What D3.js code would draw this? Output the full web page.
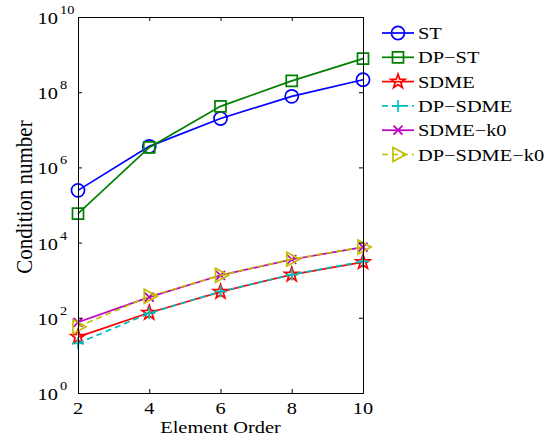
<!DOCTYPE html>
<meta charset="utf-8">
<script src="https://d3js.org/d3.v7.min.js"></script>
<style>
body{margin:0; background:#fff;}
svg text{font-family:"Liberation Serif","Times New Roman",serif; fill:#000;}
.axis path, .axis line{stroke:#000; stroke-width:1;}
</style>
<div id="vis"></div>
<script>

// data
var orders = [2, 4, 6, 8, 10];
var st       = [2.45e5, 3.63e6, 2.0e7, 7.76e7, 2.14e8];
var dpSt     = [5.9e4, 3.4e6, 4.2e7, 2.0e8, 7.8e8];
var sdme     = [31, 136, 490, 1410, 3020];
var dpSdme   = [21, 132, 500, 1410, 3160];
var sdmeK0   = [76, 355, 1350, 3550, 7600];
var dpSdmeK0 = [58, 372, 1350, 3630, 7600];
var yTicks = [1, 1e2, 1e4, 1e6, 1e8, 1e10];

var series = [
  {name: "ST",         values: st,       color: "#0000ff", marker: "circle",   dash: null},
  {name: "DP\u2212ST", values: dpSt,     color: "#008000", marker: "square",   dash: null},
  {name: "SDME",       values: sdme,     color: "#ff0000", marker: "star",     dash: null},
  {name: "DP\u2212SDME", values: dpSdme, color: "#00bfbf", marker: "plus",     dash: "6,4"},
  {name: "SDME\u2212k0", values: sdmeK0, color: "#bf00bf", marker: "cross",    dash: null},
  {name: "DP\u2212SDME\u2212k0", values: dpSdmeK0, color: "#bfbf00", marker: "triangle", dash: "6,4"}
];

var w = 555, h = 443;
var margin = {top: 17, right: 192, bottom: 50, left: 78};
var width = w - margin.left - margin.right,
    height = h - margin.top - margin.bottom;
var FONT = "Liberation Serif";
var SX = 1.2;   // the original figure is stretched sideways

var svg = d3.select("#vis").append("svg")
    .attr("width", w).attr("height", h);
svg.append("rect").attr("width", w).attr("height", h).attr("fill", "#fff");

var g = svg.append("g")
    .attr("transform", "translate(" + margin.left + "," + margin.top + ")");

var x = d3.scaleLinear().domain([2, 10]).range([0, width]);
var y = d3.scaleLog().domain([1, 1e10]).range([height, 0]);

// text placed at (px,py), stretched horizontally
function label(parent, px, py, str, size, anchor, rot, sx) {
  return parent.append("text")
    .attr("transform", "translate(" + px + "," + py + ") scale(" + (sx || SX) + ",1)" + (rot ? " rotate(" + rot + ")" : ""))
    .attr("text-anchor", anchor || "start")
    .attr("font-family", FONT)
    .style("font-size", size + "px")
    .text(str);
}

// marker paths centred on 0,0
function markerPath(type) {
  switch (type) {
    case "circle": return d3.symbol(d3.symbolCircle, 135)();
    case "square": return "M-5.5,-5.5H5.5V5.5H-5.5Z";
    case "star":
      var p = [];
      for (var i = 0; i < 10; i++) {
        var r = i % 2 ? 3 : 7.5, a = -Math.PI / 2 + i * Math.PI / 5;
        p.push([r * Math.cos(a), r * Math.sin(a)]);
      }
      return "M" + p.join("L") + "Z";
    case "plus": return "M-6,0H6M0,-6V6";
    case "cross": return "M-4.5,-4.5L4.5,4.5M-4.5,4.5L4.5,-4.5";
    case "triangle": return "M-5,-7L8,0L-5,7Z";
  }
}

var line = d3.line()
    .x(function(d, i) { return x(orders[i]); })
    .y(function(d) { return y(d); });

series.forEach(function(s) {
  var sg = g.append("g");
  sg.append("path")
    .attr("d", line(s.values))
    .attr("fill", "none")
    .attr("stroke", s.color)
    .attr("stroke-width", 1.7)
    .attr("stroke-dasharray", s.dash);
  sg.selectAll("path.m")
    .data(s.values)
    .enter().append("path")
      .attr("class", "m")
      .attr("transform", function(d, i) { return "translate(" + x(orders[i]) + "," + y(d) + ")"; })
      .attr("d", markerPath(s.marker))
      .attr("fill", "none")
      .attr("stroke", s.color)
      .attr("stroke-width", 1.7);
});

// axes with inward ticks, MATLAB box style
g.append("g").attr("class", "axis")
    .attr("transform", "translate(0," + height + ")")
    .call(d3.axisBottom(x).tickValues(orders).tickSize(-4).tickFormat(""));
g.append("g").attr("class", "axis")
    .call(d3.axisTop(x).tickValues(orders).tickSize(-4).tickFormat(""));
g.append("g").attr("class", "axis")
    .call(d3.axisLeft(y).tickValues(yTicks).tickSize(-4).tickFormat(""));
g.append("g").attr("class", "axis")
    .attr("transform", "translate(" + width + ",0)")
    .call(d3.axisRight(y).tickValues(yTicks).tickSize(-4).tickFormat(""));
g.selectAll(".axis .domain").attr("stroke-width", 1.2);

// x tick labels
orders.forEach(function(o) {
  label(g, x(o), height + 21, o, 17, "middle");
});

// y tick labels 10^n
yTicks.forEach(function(t) {
  var e = Math.round(Math.log10(t));
  label(g, -20, y(t) + 7, "10", 17, "end");
  label(g, -18, y(t) - 3, e, 12, "start");
});

// axis labels
label(g, width / 2, height + 40, "Element Order", 17, "middle");
label(g, -46, height / 2 - 8, "Condition number", 21, "middle", -90, 1.05);

// legend
var legend = svg.append("g").attr("transform", "translate(382,33)");
series.forEach(function(s, i) {
  var lg = legend.append("g").attr("transform", "translate(0," + i * 24.3 + ")");
  lg.append("line")
    .attr("x1", 0).attr("x2", 32).attr("y1", 0).attr("y2", 0)
    .attr("stroke", s.color).attr("stroke-width", 1.7)
    .attr("stroke-dasharray", s.dash);
  lg.append("path")
    .attr("transform", "translate(16,0)")
    .attr("d", markerPath(s.marker))
    .attr("fill", "none").attr("stroke", s.color).attr("stroke-width", 1.7);
  label(lg, 36, 6, s.name, 17, "start");
});

</script>
